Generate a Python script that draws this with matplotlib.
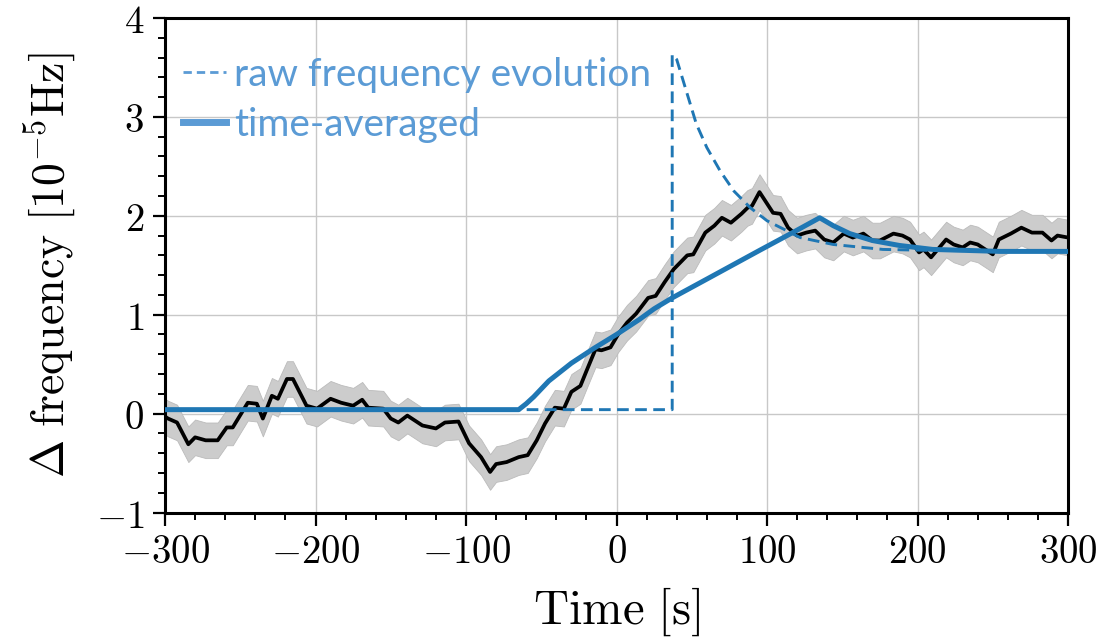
import numpy as np
import matplotlib
matplotlib.use('Agg')
import matplotlib.pyplot as plt
from matplotlib.lines import Line2D
from matplotlib.ticker import MultipleLocator, FuncFormatter

plt.rcParams['mathtext.fontset'] = 'cm'

# measured frequency shift (black) and its uncertainty band
meas_t = [-300, -298, -292, -284.5, -280, -273, -265, -259, -255, -245, -239, -235, -229, -225,
          -219, -215, -206, -199, -190, -183, -175, -169, -165, -155, -150, -145, -139, -129,
          -120, -114, -105, -98, -90, -84, -80, -73, -65, -59, -53, -47.5, -41, -35, -30, -24,
          -20, -14, -10, -4, 1, 7, 13, 21, 26, 32, 38, 47, 51, 59, 65, 70, 76, 83, 87, 90, 95,
          104, 109, 114, 120, 126, 132, 138, 144, 151, 157, 164, 170, 175, 184, 190, 195, 201,
          204, 209, 219, 224, 230, 235, 240, 250, 254, 262, 269, 276, 283, 289, 293, 300]
meas_v = [-0.03, -0.05, -0.09, -0.31, -0.24, -0.27, -0.27, -0.14, -0.14, 0.11, 0.10, -0.05, 0.18, 0.15,
          0.35, 0.35, 0.08, 0.05, 0.15, 0.11, 0.08, 0.14, 0.06, 0.05, -0.05, -0.09, -0.02, -0.12,
          -0.15, -0.09, -0.08, -0.30, -0.44, -0.59, -0.51, -0.49, -0.44, -0.42, -0.27, -0.10, 0.06, 0.05, 0.22, 0.28,
          0.43, 0.65, 0.64, 0.67, 0.80, 0.92, 1.01, 1.17, 1.19, 1.33, 1.46, 1.60, 1.61, 1.83, 1.90, 1.98, 1.93, 2.02, 2.08, 2.10, 2.24,
          2.03, 2.02, 1.88, 1.80, 1.83, 1.85, 1.76, 1.73, 1.82, 1.78, 1.82, 1.75, 1.75, 1.82, 1.80, 1.76, 1.63,
          1.66, 1.58, 1.76, 1.71, 1.68, 1.73, 1.71, 1.61, 1.76, 1.82, 1.88, 1.83, 1.83, 1.75, 1.80, 1.78]
meas_err = 0.18

# raw frequency evolution (dashed)
raw_t = [-300, 37, 37, 40, 47, 53, 60, 69, 78, 89, 100, 113, 122, 144, 177, 210, 300]
raw_v = [0.04, 0.04, 3.63, 3.58, 3.23, 2.93, 2.69, 2.45, 2.25, 2.08, 1.95, 1.85, 1.78, 1.71, 1.66, 1.65, 1.64]

# time-averaged evolution (solid)
avg_t = [-300, -65, -60, -55, -45, -30, -15, 0, 15, 25, 37, 60, 95, 117, 135, 144, 155, 170, 188, 210, 255, 300]
avg_v = [0.04, 0.04, 0.10, 0.17, 0.33, 0.51, 0.66, 0.80, 0.95, 1.06, 1.17, 1.36, 1.65, 1.83, 1.98, 1.90, 1.82,
         1.75, 1.70, 1.66, 1.64, 1.64]

blue = '#1f77b4'
legend_blue = '#5B9BD5'

fig = plt.figure(figsize=(11.18, 6.4), dpi=100)
ax = fig.add_axes([0.1476, 0.1992, 0.8077, 0.7727])

mt = np.array(meas_t)
mv = np.array(meas_v)
ax.fill_between(mt, mv - meas_err, mv + meas_err, color='#cccccc', edgecolor='#bbbbbb', lw=0.6, zorder=2)
ax.plot(mt, mv, color='black', lw=2.7, zorder=3)
ax.plot(raw_t, raw_v, color=blue, lw=2.1, dashes=(4, 2.2), zorder=4)
ax.plot(avg_t, avg_v, color=blue, lw=3.6, zorder=5, solid_capstyle='butt')

ax.set_xlim(-300, 300)
ax.set_ylim(-1, 4)
ax.xaxis.set_major_locator(MultipleLocator(100))
ax.xaxis.set_minor_locator(MultipleLocator(20))
ax.yaxis.set_major_locator(MultipleLocator(1))
ax.yaxis.set_minor_locator(MultipleLocator(0.2))
fmt = FuncFormatter(lambda v, p: r'$%d$' % round(v))
ax.xaxis.set_major_formatter(fmt)
ax.yaxis.set_major_formatter(fmt)
ax.tick_params(which='major', direction='out', length=9, width=1.6, labelsize=28, pad=6)
ax.tick_params(which='minor', direction='out', length=5, width=1.4)
ax.grid(True, which='major', color='#c8c8c8', lw=1.0, zorder=0)
ax.set_axisbelow(True)
for s in ax.spines.values():
    s.set_linewidth(2.2)

ax.set_xlabel(r'$\mathrm{Time}\ [\mathrm{s}]$', fontsize=35, labelpad=10)
ax.set_ylabel(r'$\Delta\ \mathrm{frequency}\ [10^{-5}\mathrm{Hz}]$', fontsize=33, labelpad=12)

handles = [Line2D([], [], color=legend_blue, lw=2.0, dashes=(3, 1.8)),
           Line2D([], [], color=legend_blue, lw=5)]
ax.legend(handles, ['raw frequency evolution', 'time-averaged'], loc='upper left',
          bbox_to_anchor=(0.02, 0.922), frameon=False, labelcolor=legend_blue,
          prop={'family': 'Lato', 'size': 28}, handlelength=1.1, handletextpad=0.2,
          labelspacing=0.36, borderpad=0, borderaxespad=0)

fig.savefig('out.png', dpi=100)
